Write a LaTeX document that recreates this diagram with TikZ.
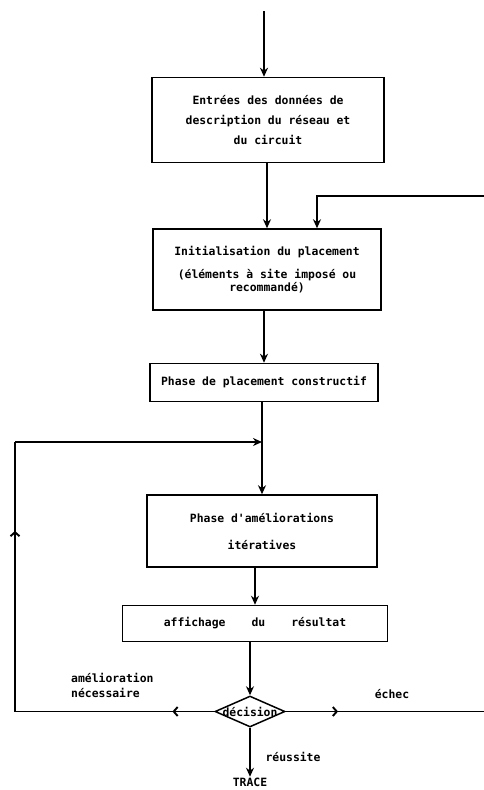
\documentclass[tikz,border=0pt]{standalone}
\usepackage{fontspec}
\setmonofont{DejaVu Sans Mono}
\usetikzlibrary{
  shapes.geometric,
  arrows.meta,
  positioning,
  decorations.markings
}
\newcommand{\fluxfont}{\ttfamily\bfseries\fontsize{11.4}{20}\selectfont}
\newcommand{\etiqfont}{\ttfamily\bfseries\fontsize{11.4}{15}\selectfont}
\tikzset{
  basebox/.style={rectangle,draw=black,line width=1.5pt,align=center,inner sep=0pt,font=\fluxfont},
  stepbox/.style={basebox,minimum width=230pt,minimum height=38pt},
  decnode/.style={diamond,draw=black,line width=1.5pt,aspect=2.3,inner sep=-1pt,minimum width=70pt,minimum height=31pt,font=\fluxfont},
  labnode/.style={align=left,inner sep=1pt,font=\etiqfont},
  arr/.style={-{Stealth[length=9pt,width=8pt]},line width=1.9pt},
  flow/.style={line width=1.9pt},
  tipat/.style={postaction={decorate,decoration={markings,mark=at position #1 with {\arrow{Straight Barb[length=4pt,width=9pt]}}}}}
}

\begin{document}
\begin{tikzpicture}[x=1pt,y=-1pt]
  \useasboundingbox (0,0) rectangle (484,790);

  \node[stepbox,minimum width=232pt,minimum height=85pt] (entree) at (268,120)
    {Entrées des données de\\description du réseau et\\du circuit};
  \node[stepbox,minimum width=228pt,minimum height=81pt,below=65pt of entree,xshift=-1pt] (init)
    {Initialisation du placement\\[3pt](éléments à site imposé ou\\[-7pt]recommandé)};
  \node[stepbox,minimum width=228pt,minimum height=38pt,below=52pt of init,xshift=-3pt] (construct)
    {Phase de placement constructif};
  \node[stepbox,minimum width=230pt,minimum height=72pt,below=92pt of construct,xshift=-2pt] (amelio)
    {Phase d'améliorations\\[7pt]itératives};
  \node[stepbox,minimum width=265pt,minimum height=36pt,below=37pt of amelio,xshift=-7pt] (affich)
    {affichage\hspace{26pt}du\hspace{26pt}résultat};
  \node[decnode,below=53pt of affich,xshift=-5pt] (decision) {décision};
  \node[labnode,below=49pt of decision] (trace) {TRACE};

  \node[labnode,anchor=west] (necess) at (70,685) {amélioration\\nécessaire};
  \node[labnode] (echec) at (392,694) {échec};
  \node[labnode] (reussite) at (293,757) {réussite};

  \coordinate (debut) at (264,11);
  \coordinate (gauche) at (15,442);
  \coordinate (droite) at (487,196);

  % flux principal
  \draw[arr] (debut) -- (entree.north -| debut);
  \draw[arr] (entree.south -| init.north) -- (init.north);
  \draw[arr] (init.south -| construct.north) -- (construct.north);
  \draw[arr] (construct.south -| amelio.north) -- (amelio.north);
  \draw[arr] (amelio.south -| affich.north) -- (affich.north);
  \draw[arr] (affich.south -| decision.north) -- (decision.north);
  \draw[arr] (decision.south) -- (trace.north);

  % boucle d'amelioration
  \draw[flow,tipat=0.21] (decision.west) -- (decision.west -| gauche);
  \draw[flow,tipat=0.67] (decision.west -| gauche) -- (gauche);
  \draw[arr] (gauche) -- (gauche -| amelio.north);

  % retour en cas d'echec
  \draw[flow,tipat=0.26] (decision.east) -- (decision.east -| droite);
  \draw[arr] (decision.east -| droite) -- (droite) -| ([xshift=50pt]init.north);
\end{tikzpicture}
\end{document}
